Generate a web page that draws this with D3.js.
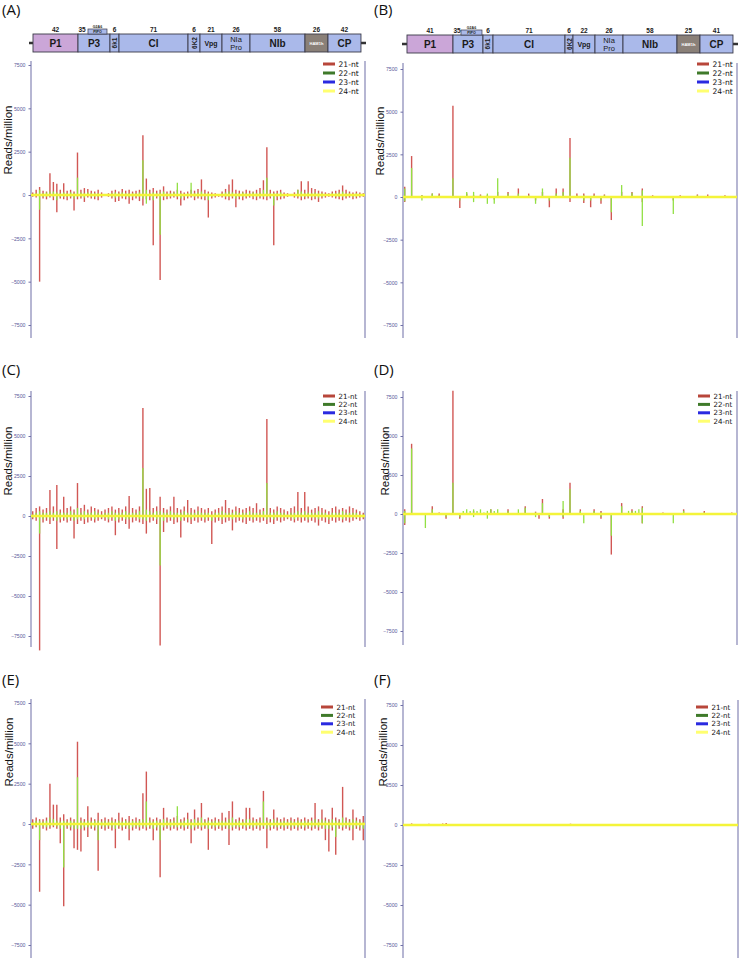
<!DOCTYPE html>
<html>
<head>
<meta charset="utf-8">
<script src="https://cdn.jsdelivr.net/npm/d3@7"></script>
<style>
  body { margin: 0; background: #fff; }
  svg { display: block; }
</style>
</head>
<body>
<svg id="chart" width="740" height="960"></svg>
<script>
// valores comunes
const tickValues = [7500, 5000, 2500, 0, -2500, -5000, -7500];
const legendLabels = ['21-nt', '22-nt', '23-nt', '24-nt'];
const binSize = 100;
const genomeLen = 9700;

// mapa genómico (posiciones en nt)
const geneNames = ['P1', 'P3', '6k1', 'CI', '6K2', 'Vpg', 'NIa Pro', 'NIb', 'HAM1h', 'CP'];
const genesA = [58, 1365, 2294, 2556, 4560, 4908, 5547, 6360, 7957, 8625, 9583];
const genesB = [116, 1452, 2323, 2614, 4705, 4937, 5576, 6389, 7957, 8625, 9583];
const sizesA = ['42', '35', '6', '71', '6', '21', '26', '58', '26', '42'];
const sizesB = ['41', '35', '6', '71', '6', '22', '26', '58', '25', '41'];
const pipoA = [1655, 2207];
const pipoB = [1684, 2294];

// Panel A (lecturas por millón, bins de 100 nt)
const aRedUp = [150,300,460,250,200,1260,750,650,300,680,
  250,300,200,2450,300,400,350,250,200,300,
  150,50,100,250,300,200,350,250,300,200,
  250,300,3450,950,300,400,250,300,500,200,
  250,200,300,250,150,200,300,250,350,900,
  300,200,150,100,50,200,350,600,900,300,
  250,200,300,250,200,300,400,850,2750,300,
  200,250,300,150,100,50,150,300,800,300,
  800,400,350,250,200,150,100,200,250,300,
  550,300,200,150,200,150,100];
const aRedDn = [-100,-150,-5000,-200,-250,-150,-300,-1000,-200,-250,
  -300,-200,-900,-250,-200,-400,-150,-200,-250,-300,
  -150,-50,-100,-200,-400,-350,-200,-250,-500,-300,
  -200,-350,-600,-250,-300,-2900,-200,-4900,-300,-250,
  -200,-150,-250,-600,-300,-200,-150,-300,-200,-250,
  -300,-1300,-200,-150,-100,-150,-250,-300,-200,-700,
  -250,-300,-200,-150,-250,-300,-200,-250,-300,-200,
  -2900,-300,-250,-200,-100,-50,-150,-200,-300,-250,
  -200,-300,-250,-400,-200,-150,-100,-150,-200,-250,
  -300,-200,-150,-250,-200,-150,-100];
const aGrnUp = [50,100,300,100,150,200,200,150,100,150,
  100,150,100,1000,150,100,150,100,100,100,
  50,0,50,100,150,100,150,100,100,100,
  100,150,2000,300,100,150,100,150,200,100,
  100,150,700,100,50,100,700,100,150,200,
  100,100,50,50,0,100,150,200,150,100,
  100,150,100,100,150,100,150,300,1000,100,
  100,100,150,50,50,0,50,300,200,100,
  150,100,150,100,100,50,50,100,100,150,
  200,100,100,50,100,50,50];
const aGrnDn = [-50,-50,-850,-100,-100,-50,-100,-300,-100,-100,
  -100,-100,-200,-100,-100,-150,-50,-100,-100,-100,
  -50,0,-50,-100,-150,-100,-100,-100,-150,-100,
  -100,-100,-200,-500,-100,-300,-100,-2300,-100,-100,
  -100,-50,-100,-200,-100,-100,-50,-100,-100,-100,
  -100,-300,-100,-50,-50,-50,-100,-100,-100,-200,
  -100,-100,-100,-50,-100,-100,-100,-100,-100,-100,
  -600,-100,-100,-50,-50,0,-50,-100,-100,-100,
  -100,-100,-100,-150,-100,-50,-50,-50,-100,-100,
  -100,-100,-50,-100,-100,-50,-50];

// Panel B
const bRedUp = [600,0,2400,0,0,100,0,0,200,0,
  200,0,0,0,5350,0,0,0,200,0,
  100,0,150,0,100,0,0,300,0,0,
  300,0,0,500,0,0,200,0,0,0,
  300,0,0,0,500,0,500,0,3450,0,
  200,0,200,0,0,200,0,0,150,0,
  0,0,0,300,0,0,300,0,0,500,
  0,0,100,0,0,0,0,0,0,0,
  100,0,0,0,0,150,0,0,150,0,
  0,0,0,100,0,0,0];
const bRedDn = [-300,0,0,0,0,0,0,0,0,0,
  0,0,0,0,0,0,-650,0,0,0,
  0,0,0,0,0,0,-150,0,0,0,
  0,0,0,0,0,0,0,0,-200,0,
  0,0,-600,0,0,0,0,0,-300,0,
  0,0,-350,0,-600,0,0,-400,0,0,
  -1350,0,0,0,0,0,0,0,0,-300,
  0,0,0,0,0,0,0,0,-200,0,
  0,0,0,0,0,0,0,0,0,0,
  0,0,0,0,0,0,0];
const bGrnUp = [500,0,1700,0,0,100,0,0,200,0,
  100,0,0,0,1100,0,0,0,300,0,
  300,0,100,0,200,0,0,1100,0,0,
  200,0,0,200,0,0,100,0,0,0,
  500,0,0,0,200,0,300,0,2300,0,
  100,0,100,0,0,100,0,0,100,0,
  0,0,0,700,0,0,250,0,0,400,
  0,0,50,0,0,0,0,0,0,0,
  50,0,0,0,0,100,0,0,50,0,
  0,0,0,50,0,0,0];
const bGrnDn = [-250,0,0,0,0,-200,0,0,0,0,
  0,0,0,0,0,0,-200,0,0,0,
  -300,0,0,0,-400,0,-400,0,0,0,
  0,0,0,0,0,0,0,0,-400,0,
  0,0,-200,0,0,0,0,0,-100,0,
  0,0,-200,0,-200,0,0,-200,0,0,
  -900,0,0,0,0,0,0,0,0,-1700,
  0,0,0,0,0,0,0,0,-1000,0,
  0,0,0,0,0,0,0,0,0,0,
  0,0,0,0,0,0,0];

// Panel C
const cRedUp = [300,500,600,400,500,1620,600,1940,400,1200,
  500,600,400,2060,500,700,400,600,500,400,
  300,400,500,600,400,500,400,600,1250,500,
  400,600,6750,1700,1750,500,600,1200,500,400,
  600,1200,500,400,600,1000,500,400,600,500,
  400,500,300,400,500,600,1000,500,400,600,
  500,400,500,600,500,800,400,500,6060,500,
  400,600,500,400,300,500,600,1500,500,1500,
  600,400,500,600,500,400,300,500,600,400,
  500,400,600,500,400,300,200];
const cRedDn = [-200,-300,-8400,-400,-300,-500,-300,-2060,-400,-300,
  -400,-300,-1400,-500,-300,-500,-400,-300,-400,-300,
  -200,-300,-400,-300,-1200,-400,-300,-500,-800,-400,
  -300,-400,-500,-1100,-400,-300,-500,-8100,-1000,-400,
  -300,-500,-400,-1350,-300,-400,-500,-300,-400,-300,
  -400,-300,-1750,-400,-300,-500,-400,-300,-900,-400,
  -300,-400,-500,-300,-400,-300,-400,-300,-500,-400,
  -500,-300,-400,-300,-200,-300,-400,-300,-400,-300,
  -400,-300,-400,-600,-300,-400,-500,-300,-400,-300,
  -400,-300,-400,-300,-200,-300,-200];
const cGrnUp = [100,200,300,200,200,300,200,300,200,200,
  200,300,200,500,200,300,200,200,300,200,
  100,200,200,300,200,200,200,300,200,200,
  200,300,3000,400,300,200,300,300,200,200,
  300,200,200,200,300,200,200,200,300,200,
  200,200,100,200,200,300,200,200,200,300,
  200,200,200,300,200,200,200,300,2060,200,
  200,300,200,200,100,200,200,300,200,300,
  200,200,200,300,200,200,100,200,200,200,
  300,200,200,200,200,100,100];
const cGrnDn = [-100,-100,-1100,-200,-100,-200,-100,-300,-200,-100,
  -200,-100,-300,-200,-100,-200,-100,-100,-200,-100,
  -100,-100,-200,-100,-300,-200,-100,-200,-200,-100,
  -100,-200,-200,-300,-100,-100,-200,-3100,-300,-100,
  -100,-200,-100,-300,-100,-100,-200,-100,-100,-100,
  -200,-100,-300,-100,-100,-200,-100,-100,-200,-100,
  -100,-200,-100,-100,-200,-100,-100,-100,-200,-100,
  -200,-100,-100,-100,-100,-100,-200,-100,-100,-100,
  -200,-100,-100,-200,-100,-100,-200,-100,-100,-100,
  -200,-100,-100,-100,-100,-100,-100];

// Panel D
const dRedUp = [300,0,4500,0,0,0,0,0,500,0,
  100,0,0,0,7900,0,0,0,0,0,
  200,0,0,0,0,300,0,0,0,0,
  300,0,0,0,0,500,0,0,150,0,
  960,0,0,0,0,0,300,0,2000,0,
  0,300,0,0,0,300,0,200,0,0,
  0,0,0,700,0,0,300,0,0,500,
  0,0,0,0,0,100,0,0,0,0,
  0,300,0,0,0,0,0,200,0,0,
  0,0,0,0,0,100,0];
const dRedDn = [-700,0,0,0,0,0,0,0,0,0,
  0,0,-300,0,0,0,-300,0,0,0,
  0,0,0,0,0,0,0,0,0,0,
  0,0,0,0,0,0,0,0,0,-300,
  0,0,-300,0,0,0,-300,0,0,0,
  0,0,0,0,0,0,0,-300,0,0,
  -2600,0,0,0,0,0,0,0,0,-600,
  0,0,0,0,0,0,0,0,0,0,
  0,0,0,0,0,0,0,0,0,0,
  0,0,0,0,0,0,0];
const dGrnUp = [200,0,4200,0,0,0,0,0,300,0,
  0,0,0,0,2000,0,0,200,300,200,
  300,200,300,100,200,300,200,300,0,0,
  200,0,0,300,0,400,0,0,100,0,
  700,0,0,0,0,0,830,0,1600,0,
  0,200,0,0,0,200,0,100,0,0,
  0,0,0,500,0,200,200,200,300,400,
  0,0,0,0,0,50,0,0,0,0,
  0,200,0,0,0,0,0,100,0,0,
  0,0,0,0,0,50,0];
const dGrnDn = [-600,0,0,0,0,0,-900,0,0,0,
  0,0,-200,0,0,0,-200,0,0,0,
  -200,0,0,0,-300,0,0,0,0,0,
  0,0,0,0,0,0,0,0,-200,0,
  0,0,-200,0,0,0,-200,0,0,0,
  0,0,-600,0,0,0,0,-200,0,0,
  -1400,0,0,0,0,0,0,0,0,-600,
  0,0,0,0,0,0,0,0,-600,0,
  0,0,0,0,0,0,0,0,0,0,
  0,0,0,0,0,0,0];

// Panel E
const eRedUp = [300,400,300,300,400,2500,1200,1200,400,600,
  300,400,300,5100,400,300,1100,400,300,700,
  300,400,300,400,300,700,400,300,500,300,
  400,300,1900,3250,400,300,400,300,1000,400,
  300,400,500,300,400,700,300,900,400,1300,
  300,400,300,400,300,700,400,800,1400,300,
  400,300,1000,1000,400,300,400,2050,400,300,
  900,400,300,400,300,400,300,400,300,400,
  300,400,1300,300,900,400,300,1000,400,300,
  2300,400,300,900,400,300,500];
const eRedDn = [-300,-200,-4200,-300,-400,-300,-200,-300,-1200,-5100,
  -300,-400,-1500,-1600,-1700,-400,-800,-300,-400,-2900,
  -300,-400,-300,-400,-1500,-300,-400,-300,-1000,-400,
  -300,-400,-300,-400,-300,-1000,-400,-3300,-400,-300,
  -400,-300,-400,-300,-400,-300,-1200,-400,-300,-400,
  -300,-1600,-300,-400,-300,-400,-300,-1300,-400,-300,
  -400,-300,-400,-300,-400,-300,-400,-300,-1500,-400,
  -300,-400,-300,-400,-300,-400,-300,-400,-300,-400,
  -300,-400,-300,-400,-300,-1000,-1700,-400,-1900,-300,
  -400,-300,-400,-1000,-300,-400,-1000];
const eGrnUp = [100,200,200,150,200,400,300,200,150,200,
  150,200,150,2900,200,150,200,150,200,200,
  150,200,150,200,150,200,150,200,150,200,
  150,200,300,1400,200,150,200,150,300,200,
  150,200,1100,150,200,300,150,300,200,400,
  150,200,150,200,150,200,150,300,400,150,
  200,150,300,300,200,150,200,1400,200,150,
  300,200,150,200,150,200,150,200,150,200,
  150,200,300,150,300,200,150,300,200,150,
  400,200,150,300,200,150,100];
const eGrnDn = [-100,-150,-1000,-150,-200,-150,-100,-150,-300,-2700,
  -150,-200,-300,-300,-300,-200,-200,-150,-200,-1000,
  -150,-200,-150,-200,-300,-150,-200,-150,-300,-200,
  -150,-200,-150,-200,-150,-300,-200,-1000,-200,-150,
  -200,-150,-200,-150,-200,-150,-300,-200,-150,-200,
  -150,-300,-150,-200,-150,-200,-150,-300,-200,-150,
  -200,-150,-200,-150,-200,-150,-200,-150,-300,-200,
  -150,-200,-150,-200,-150,-200,-150,-200,-150,-200,
  -150,-200,-150,-200,-150,-300,-300,-200,-800,-150,
  -200,-150,-200,-300,-150,-200,-300];

// Panel F
const fRedUp = [0,0,100,0,0,0,0,80,0,0,
  0,100,120,0,0,0,0,0,0,0,
  0,0,0,0,0,0,0,0,0,0,
  0,0,0,0,0,0,0,0,0,0,
  0,0,0,0,0,0,0,0,80,0,
  0,0,0,0,0,0,0,0,0,0,
  0,0,0,0,0,0,0,0,0,0,
  0,0,0,0,0,0,0,0,0,0,
  0,0,0,0,0,0,0,0,0,0,
  0,0,0,0,0,0,0];
const fRedDn = new Array(97).fill(0);
const fGrnUp = new Array(97).fill(0);
const fGrnDn = new Array(97).fill(0);

// colores
const colRed = '#c93a36';
const colGreen = '#92e044';
const legendColors = ['#b8463a', '#3f7a2a', '#2a2ae0', '#ffff70'];

const panels = [
  { tag: '(A)', up: aRedUp, dn: aRedDn, gUp: aGrnUp, gDn: aGrnDn,
    axisX: 31, rightX: 365, yTop: 65, yBot: 325, lineTop: 61, lineBot: 338,
    tagY: 15, titleY: 140, titleX: 12, legX: 323, legY: 64, legGap: 9, legFont: 7.6 },
  { tag: '(B)', up: bRedUp, dn: bRedDn, gUp: bGrnUp, gDn: bGrnDn,
    axisX: 403, rightX: 737, yTop: 69, yBot: 325, lineTop: 63, lineBot: 338,
    tagY: 15, titleY: 141, titleX: 384, legX: 697, legY: 64, legGap: 9, legFont: 7.6 },
  { tag: '(C)', up: cRedUp, dn: cRedDn, gUp: cGrnUp, gDn: cGrnDn,
    axisX: 31, rightX: 365, yTop: 396, yBot: 636, lineTop: 391, lineBot: 647,
    tagY: 375, titleY: 461, titleX: 12, legX: 323, legY: 396, legGap: 8.4, legFont: 7.1 },
  { tag: '(D)', up: dRedUp, dn: dRedDn, gUp: dGrnUp, gDn: dGrnDn,
    axisX: 403, rightX: 737, yTop: 397, yBot: 631, lineTop: 391, lineBot: 645,
    tagY: 375, titleY: 461, titleX: 389, legX: 698, legY: 396, legGap: 8.4, legFont: 7.1 },
  { tag: '(E)', up: eRedUp, dn: eRedDn, gUp: eGrnUp, gDn: eGrnDn,
    axisX: 31, rightX: 365, yTop: 703, yBot: 945, lineTop: 699, lineBot: 958,
    tagY: 685, titleY: 752, titleX: 13, legX: 321, legY: 707, legGap: 8.4, legFont: 7.1 },
  { tag: '(F)', up: fRedUp, dn: fRedDn, gUp: fGrnUp, gDn: fGrnDn,
    axisX: 403, rightX: 738, yTop: 705, yBot: 945, lineTop: 700, lineBot: 958,
    tagY: 685, titleY: 752, titleX: 387, legX: 696, legY: 707, legGap: 8.4, legFont: 7.1 }
];

const svg = d3.select('#chart');

// dibujar un panel
function drawPanel(p) {
  const g = svg.append('g');
  const x = d3.scaleLinear().domain([0, genomeLen]).range([p.axisX, p.rightX]);
  const y = d3.scaleLinear().domain([-7500, 7500]).range([p.yBot, p.yTop]);
  const bins = d3.range(p.up.length);
  const bx = (i) => x((i + 0.5) * binSize);

  // etiqueta del panel
  g.append('text')
    .attr('x', p.axisX - 29)
    .attr('y', p.tagY)
    .attr('font-family', 'Open Sans, sans-serif')
    .attr('font-size', 15)
    .attr('fill', '#111')
    .text(p.tag);

  // eje vertical izquierdo y línea derecha
  g.append('line')
    .attr('x1', p.axisX).attr('x2', p.axisX)
    .attr('y1', p.lineTop).attr('y2', p.lineBot)
    .attr('stroke', '#8585b5').attr('stroke-width', 1.2);
  g.append('line')
    .attr('x1', p.rightX).attr('x2', p.rightX)
    .attr('y1', p.lineTop).attr('y2', p.lineBot)
    .attr('stroke', '#8585b5').attr('stroke-width', 1.2);

  const axis = g.append('g')
    .attr('transform', `translate(${p.axisX},0)`)
    .call(d3.axisLeft(y).tickValues(tickValues).tickSize(2.5).tickPadding(3)
      .tickFormat(d3.format('d')));
  axis.select('.domain').remove();
  axis.selectAll('line').attr('stroke', '#7070a8');
  axis.selectAll('text')
    .attr('font-family', 'Liberation Sans, Arial, sans-serif')
    .attr('font-size', 5.2)
    .attr('fill', '#5a5a9a');

  // título del eje
  g.append('text')
    .attr('transform', `translate(${p.titleX},${p.titleY}) rotate(-90)`)
    .attr('text-anchor', 'middle')
    .attr('font-family', 'Liberation Sans, Arial, sans-serif')
    .attr('font-size', 11.5)
    .attr('fill', '#111')
    .text('Reads/million');

  // 21-nt
  g.append('g').selectAll('line').data(bins).join('line')
    .attr('x1', bx).attr('x2', bx)
    .attr('y1', (i) => y(p.dn[i]))
    .attr('y2', (i) => y(p.up[i]))
    .attr('stroke', colRed)
    .attr('stroke-width', 1.4)
    .attr('stroke-opacity', 0.85);

  // 22-nt
  g.append('g').selectAll('line').data(bins).join('line')
    .attr('x1', bx).attr('x2', bx)
    .attr('y1', (i) => y(p.gDn[i]))
    .attr('y2', (i) => y(p.gUp[i]))
    .attr('stroke', colGreen)
    .attr('stroke-width', 1.3);

  // 24-nt (línea amarilla en cero)
  g.append('line')
    .attr('x1', x(0)).attr('x2', x(genomeLen))
    .attr('y1', y(0)).attr('y2', y(0))
    .attr('stroke', '#f4f43a').attr('stroke-width', 2.4);

  // leyenda
  const leg = g.append('g').selectAll('g').data(legendLabels).join('g')
    .attr('transform', (d, i) => `translate(${p.legX},${p.legY + i * p.legGap})`);
  leg.append('rect')
    .attr('x', 0).attr('y', -1.5).attr('width', 12).attr('height', 3)
    .attr('fill', (d, i) => legendColors[i]);
  leg.append('text')
    .attr('x', 15.5).attr('y', 2.6)
    .attr('font-family', 'DejaVu Sans, sans-serif')
    .attr('font-size', p.legFont)
    .attr('fill', '#111')
    .text((d) => d);
}

// dibujar el mapa genómico
function drawMap(bounds, sizes, pipo, axisX, rightX, top, lineX1, lineX2) {
  const g = svg.append('g');
  const x = d3.scaleLinear().domain([0, genomeLen]).range([axisX, rightX]);
  const h = 18;

  g.append('line')
    .attr('x1', lineX1).attr('x2', lineX2)
    .attr('y1', top + h / 2).attr('y2', top + h / 2)
    .attr('stroke', '#333').attr('stroke-width', 2.5);

  const genes = geneNames.map((name, i) => ({ name, s: bounds[i], e: bounds[i + 1], size: sizes[i] }));

  g.selectAll('rect.gene').data(genes).join('rect')
    .attr('x', (d) => x(d.s))
    .attr('y', top)
    .attr('width', (d) => x(d.e) - x(d.s))
    .attr('height', h)
    .attr('fill', (d) => d.name === 'P1' ? '#cba6d8' : d.name === 'HAM1h' ? '#8a8078' : '#aab9ea')
    .attr('stroke', '#3a3a48').attr('stroke-width', 0.9);

  // PIPO
  g.append('rect')
    .attr('x', x(pipo[0])).attr('y', top - 5)
    .attr('width', x(pipo[1]) - x(pipo[0])).attr('height', 5)
    .attr('fill', '#aab9ea').attr('stroke', '#3a3a48').attr('stroke-width', 0.7);
  g.append('text')
    .attr('x', (x(pipo[0]) + x(pipo[1])) / 2).attr('y', top - 1.2)
    .attr('text-anchor', 'middle')
    .attr('font-family', 'Liberation Sans, Arial, sans-serif')
    .attr('font-size', 3.6).attr('font-weight', 'bold').attr('fill', '#222')
    .text('PIPO');
  g.append('text')
    .attr('x', (x(pipo[0]) + x(pipo[1])) / 2).attr('y', top - 6)
    .attr('text-anchor', 'middle')
    .attr('font-family', 'Liberation Sans, Arial, sans-serif')
    .attr('font-size', 3.6).attr('font-weight', 'bold').attr('fill', '#222')
    .text('G2A6');

  // nombres de genes
  genes.forEach((d) => {
    const cx = (x(d.s) + x(d.e)) / 2;
    const t = g.append('text')
      .attr('font-family', 'Liberation Sans, Arial, sans-serif')
      .attr('font-weight', 'bold')
      .attr('text-anchor', 'middle')
      .attr('fill', d.name === 'HAM1h' ? '#fff' : '#1a1a1a');
    if (d.name === '6k1' || d.name === '6K2') {
      t.attr('transform', `translate(${cx + 2.5},${top + h / 2}) rotate(-90)`)
        .attr('font-size', 6.5).text(d.name);
    } else if (d.name === 'NIa Pro') {
      t.attr('font-size', 7.5).attr('font-weight', 'normal');
      t.append('tspan').attr('x', cx).attr('y', top + 7.5).text('NIa');
      t.append('tspan').attr('x', cx).attr('y', top + 15.5).text('Pro');
    } else if (d.name === 'HAM1h') {
      t.attr('x', cx).attr('y', top + h / 2 + 1.5).attr('font-size', 4).text('HAM1h');
    } else if (d.name === 'Vpg') {
      t.attr('x', cx).attr('y', top + h / 2 + 3).attr('font-size', 7).text(d.name);
    } else {
      t.attr('x', cx).attr('y', top + h / 2 + 3.5).attr('font-size', 10).text(d.name);
    }
    // tamaño en kDa
    g.append('text')
      .attr('x', d.name === 'P3' ? x(d.s) + 0.5 : cx)
      .attr('y', top - 2.5)
      .attr('text-anchor', d.name === 'P3' ? 'start' : 'middle')
      .attr('font-family', 'Liberation Sans, Arial, sans-serif')
      .attr('font-weight', 'bold')
      .attr('font-size', 6.5)
      .attr('fill', '#1a1a1a')
      .text(d.size);
  });
}

panels.forEach(drawPanel);
drawMap(genesA, sizesA, pipoA, 31, 365, 34, 29, 366);
drawMap(genesB, sizesB, pipoB, 403, 737, 35, 402, 738);
</script>
</body>
</html>
